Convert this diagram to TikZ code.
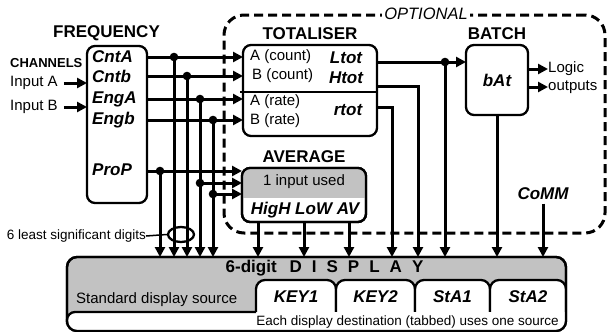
\documentclass[tikz,border=0pt]{standalone}
\usepackage{fontspec}
\setmainfont{Liberation Sans}
\usetikzlibrary{arrows.meta,shapes.geometric}
\definecolor{panel}{gray}{0.76}
\begin{document}
\begin{tikzpicture}[x=1pt, y=-1pt,
    box/.style={rectangle, draw, line width=2.3pt, rounded corners=8pt, outer sep=0pt, fill=white},
    optbox/.style={rectangle, draw, line width=3pt, dash pattern=on 9pt off 5pt, rounded corners=20pt},
    title/.style={font=\fontsize{17}{19}\selectfont\bfseries},
    lbl/.style={font=\fontsize{17}{19}\selectfont\bfseries\itshape},
    txt/.style={font=\fontsize{15}{17}\selectfont},
    small/.style={font=\fontsize{13.5}{15}\selectfont},
    conn/.style={line width=3pt, -{Triangle[length=10pt,width=10pt]}},
    rim/.style={line width=2.3pt}
]
\useasboundingbox (0,0) rectangle (608,332);

% Optional area
\node[optbox, minimum width=381pt, minimum height=218pt] (opt) at (414.5,124) {};
\node[fill=white, inner sep=2pt, font=\fontsize{16.5}{18}\selectfont\itshape] (optlbl) at (426,14) {OPTIONAL};

% Frequency
\node[box, minimum width=60pt, minimum height=157pt] (freq) at (117,124.5) {};
\node[title] (freqtitle) at (106.5,33) {FREQUENCY};
\node[lbl, anchor=west, inner sep=0pt] (cnta) at (92,57) {CntA};
\node[lbl, anchor=west, inner sep=0pt] (cntb) at (92,76) {Cntb};
\node[lbl, anchor=west, inner sep=0pt] (enga) at (92,99) {EngA};
\node[lbl, anchor=west, inner sep=0pt] (engb) at (92,120) {Engb};
\node[lbl, anchor=west, inner sep=0pt] (prop) at (92,170) {ProP};

% Channels
\node[anchor=west, inner sep=0pt, font=\fontsize{13}{15}\selectfont\bfseries] (chan) at (10,63) {CHANNELS};
\node[txt, anchor=west, inner sep=0pt] (ina) at (10,83) {Input A};
\node[txt, anchor=west, inner sep=0pt] (inb) at (10,107) {Input B};
\draw[conn] ([xshift=6pt]ina.east) -- (freq.west |- ina);
\draw[conn] ([xshift=6pt]inb.east) -- (freq.west |- inb);

% Totaliser
\node[box, minimum width=134pt, minimum height=91pt] (tot) at (310,90.5) {};
\node[title, above=2pt] (tottitle) at (tot.north) {TOTALISER};
\node[txt, anchor=west, inner sep=0pt] (tca) at (250,57) {A (count)};
\node[txt, anchor=west, inner sep=0pt] (tcb) at (252,76) {B (count)};
\node[txt, anchor=west, inner sep=0pt] (tra) at (250,102) {A (rate)};
\node[txt, anchor=west, inner sep=0pt] (trb) at (250,121) {B (rate)};
\node[lbl] (ltot) at (346,58) {Ltot};
\node[lbl] (htot) at (346,78) {Htot};
\node[lbl] (rtot) at (348,110) {rtot};
\coordinate (sep) at (240,92);
\draw[rim] (sep) -- (sep -| tot.east);

% Batch
\node[box, minimum width=62pt, minimum height=70pt] (batch) at (497,80) {};
\node[title, above=2pt] (batchtitle) at (batch.north) {BATCH};
\node[lbl] (bat) at (batch) {bAt};
\node[txt, anchor=west, inner sep=0pt] (logic) at (548,69) {Logic};
\node[txt, anchor=west, inner sep=0pt] (outs) at (548,87) {outputs};
\draw[conn] (batch.east |- logic) -- (logic.west);
\draw[conn] (batch.east |- outs) -- (outs.west);

% Average
\node[box, minimum width=124pt, minimum height=54pt] (avg) at (304,195) {};
\coordinate (avgsplit) at (304,198);
\begin{scope}
\clip[rounded corners=8pt] (avg.south west) rectangle (avg.north east);
\fill[panel] (avg.north west) rectangle (avg.east |- avgsplit);
\end{scope}
\draw[rim, rounded corners=8pt] (avg.south west) rectangle (avg.north east);
\node[title, above=2pt] (avgtitle) at (avg.north) {AVERAGE};
\node[txt] (avgin) at (304,182) {1 input used};
\node[lbl] (avgout) at (305,210) {HigH LoW AV};

% Display
\node[box, fill=panel, rounded corners=10pt, minimum width=499pt, minimum height=74pt] (disp) at (316.5,294) {};
\begin{scope}
\clip[rounded corners=10pt] (disp.south west) rectangle (disp.north east);
\foreach \a/\b in {256/336, 336/415, 415/490, 490/566}
  \filldraw[rim, fill=white, rounded corners=9pt] (\a,324) -- (\a,280) -- (\b,280) -- (\b,324);
\fill[white] (67,340) [rounded corners=8pt] -- (67,312) [sharp corners] -- (570,312) -- (570,340) -- cycle;
\end{scope}
\draw[rim] (67,324) [rounded corners=8pt] -- (67,312) -- (256,312);
\draw[rim, rounded corners=10pt] (disp.south west) rectangle (disp.north east);
\node[lbl] (key1) at (296,297) {KEY1};
\node[lbl] (key2) at (375.5,297) {KEY2};
\node[lbl] (sta1) at (452.5,297) {StA1};
\node[lbl] (sta2) at (528,297) {StA2};
\node[title] (disptitle) at (324.5,268) {6-digit\hspace{13pt}D\hspace{10pt}I\hspace{10pt}S\hspace{10pt}P\hspace{10pt}L\hspace{10pt}A\hspace{10pt}Y};
\node[txt, anchor=west, inner sep=0pt] (stdsrc) at (76,300) {Standard display source};
\node[small, anchor=east, inner sep=0pt] (note) at (559,322) {Each display destination (tabbed) uses one source};

% Frequency outputs
\coordinate (jA) at (174,57);
\coordinate (jB) at (187,76);
\coordinate (jC) at (200,99);
\coordinate (jD) at (213,120);
\coordinate (jP) at (160,171);
\coordinate (jC2) at (200,183);
\coordinate (jD2) at (213,194);
\foreach \j in {jA,jB,jC,jD}
  \draw[conn] (freq.east |- \j) -- (tot.west |- \j);
\draw[conn] (freq.east |- jP) -- (avg.west |- jP);
\draw[conn] (jC2) -- (avg.west |- jC2);
\draw[conn] (jD2) -- (avg.west |- jD2);
\foreach \j in {jA,jB,jC,jD,jP}
  \draw[conn] (\j) -- (\j |- disp.north);
\foreach \j in {jA,jB,jC,jD,jP,jC2,jD2}
  \fill (\j) circle (4.3pt);

% Totaliser outputs
\coordinate (jL) at (445,62);
\coordinate (colH) at (418,86);
\coordinate (colR) at (392,107);
\draw[conn] (tot.east |- jL) -- (batch.west |- jL);
\fill (jL) circle (4.3pt);
\draw[conn] (jL) -- (jL |- disp.north);
\draw[conn] (tot.east |- colH) -- (colH) -- (colH |- disp.north);
\draw[conn] (tot.east |- colR) -- (colR) -- (colR |- disp.north);

% Average outputs
\foreach \x in {258,304,349}
  \draw[conn] (\x,0 |- avg.south) -- (\x,0 |- disp.north);

% Batch and serial
\draw[conn] (batch.south) -- (batch.south |- disp.north);
\node[lbl] (comm) at (543,194) {CoMM};
\draw[conn] (comm.south) -- (comm.south |- disp.north);

% Least significant digits
\node[draw, ellipse, line width=2.3pt, minimum width=26pt, minimum height=15pt, inner sep=0pt] (lsd) at (181,234.5) {};
\node[small, anchor=east, inner sep=0pt] (lsdtxt) at (146,236) {6 least significant digits};
\draw[line width=1.5pt] (lsdtxt.east) -- (lsd.west);
\end{tikzpicture}
\end{document}
